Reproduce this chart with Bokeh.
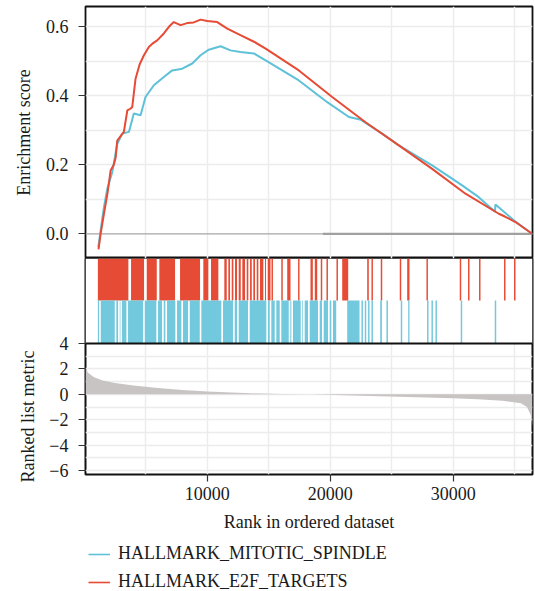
from bokeh.plotting import figure
from bokeh.layouts import column
from bokeh.models import (Range1d, FixedTicker, Legend, LegendItem, Title,
                          NumeralTickFormatter)
from bokeh.embed import file_html
from bokeh.resources import INLINE

# ---------------- data ----------------
e2f_rank = [1160, 1330, 1600, 1900, 2140, 2400, 2550, 2680, 3000, 3220, 3500, 3750, 3900,
            4170, 4500, 4850, 5250, 5600, 5930, 6470, 6900, 7280, 7830, 8370, 8900, 9460,
            10000, 10810, 11630, 12700, 13800, 14750, 17450, 20160, 22870, 25580, 28290,
            31000, 33710, 34200, 35060, 36420]
e2f_es = [-0.045, 0.0, 0.058, 0.12, 0.183, 0.2, 0.22, 0.27, 0.285, 0.295, 0.357, 0.362, 0.367,
          0.449, 0.49, 0.517, 0.541, 0.552, 0.56, 0.58, 0.6, 0.613, 0.604, 0.61, 0.612, 0.62,
          0.616, 0.613, 0.594, 0.575, 0.556, 0.536, 0.473, 0.396, 0.323, 0.256, 0.188,
          0.116, 0.058, 0.05, 0.034, 0.0]

spindle_rank = [1140, 1330, 1600, 1870, 2280, 2680, 3090, 3630, 4030, 4580, 4980, 5660, 6470,
                7150, 7970, 8780, 9460, 10130, 11080, 11890, 12700, 13790, 14750, 17450,
                19760, 21520, 22500, 24230, 25580, 28290, 30730, 32080, 33400, 33440, 34930,
                36420]
spindle_es = [-0.039, 0.01, 0.077, 0.13, 0.179, 0.26, 0.29, 0.295, 0.348, 0.343, 0.396, 0.43,
              0.454, 0.473, 0.478, 0.493, 0.517, 0.533, 0.543, 0.531, 0.526, 0.522, 0.502,
              0.444, 0.381, 0.338, 0.33, 0.29, 0.256, 0.198, 0.14, 0.106, 0.064, 0.085, 0.039,
              0.0]

# hit positions (runs of closely spaced hits given as start/end ranks)
e2f_hit_start = [1106, 3804, 5081, 6105, 7788, 9682, 10308, 11390, 11715, 11991, 12260, 12560,
                 12853, 13210, 13480, 13747, 14024, 14292, 14699, 14918, 15224, 16021, 16504,
                 17387, 18398, 18748, 19233, 19696, 20509, 20975, 23008, 23354, 24111, 25655,
                 26260, 27826, 30533, 31208, 32102, 34135, 34948]
e2f_hit_end = [3586, 4862, 5895, 7383, 9415, 10090, 10903, 11586, 11854, 12123, 12423, 12724,
               13074, 13342, 13619, 13887, 14155, 14562, 14781, 15146, 15344, 16141, 16772,
               17507, 18586, 18943, 19353, 19816, 20629, 21463, 23138, 23474, 24231, 25775,
               26447, 27946, 30653, 31328, 32222, 34255, 35068]

spindle_hit_start = [1106, 1341, 2609, 2886, 3072, 3560, 4918, 5999, 6463, 6731, 7544, 8032,
                     8577, 9520, 11284, 12235, 12560, 13455, 14942, 15211, 15617, 16024, 16755,
                     16975, 17731, 17926, 18333, 19146, 19471, 19959, 20227, 21382, 22541,
                     22810, 23078, 23354, 24065, 24574, 25737, 26341, 27875, 28232, 28558,
                     30614, 33380]
spindle_hit_end = [1204, 2480, 2749, 2936, 3423, 4781, 5862, 6326, 6594, 7407, 7895, 8440,
                   9391, 11147, 12098, 12423, 13318, 14805, 15082, 15488, 15895, 16627, 16838,
                   17602, 17789, 18196, 19009, 19334, 19822, 20090, 20488, 22382, 22661,
                   22930, 23198, 23474, 24203, 24694, 25857, 26447, 27995, 28352, 28678,
                   30734, 33500]

metric_rank = [100, 300, 800, 1500, 2500, 4000, 6000, 8000, 10000, 13000, 16000, 18500,
               21000, 24000, 27000, 30000, 32000, 34000, 35500, 36000, 36300, 36450]
metric_value = [2.1, 1.7, 1.35, 1.1, 0.9, 0.7, 0.5, 0.35, 0.22, 0.1, 0.03, 0.0,
                -0.06, -0.14, -0.22, -0.3, -0.38, -0.5, -0.7, -1.0, -1.6, -2.5]

x_ticks = [10000, 20000, 30000]
es_ticks = [0.0, 0.2, 0.4, 0.6]
metric_ticks = [-6, -4, -2, 0, 2, 4]
metric_labels = {-6: "\u22126", -4: "\u22124", -2: "\u22122", 0: "0", 2: "2", 4: "4"}
series_names = ["HALLMARK_MITOTIC_SPINDLE", "HALLMARK_E2F_TARGETS"]

# ---------------- style ----------------
RED = "#E64B35"
BLUE = "#5EC1D8"
FONT = "Liberation Serif"
FS = "18px"
GRID = "#ececec"
W = 535
TICK_OUT = 7
STANDOFF = 10
X0, X1 = 100, 36450
x_range = Range1d(X0, X1)

# lower (metric) panel: 131 px for -6.3..4 ; hit strip of 85 px stacked above it
M_LO, M_HI = -6.3, 4.0
PX_PER_UNIT = 131 / (M_HI - M_LO)
STRIP = 85 / PX_PER_UNIT
SPLIT = M_HI + 43 / PX_PER_UNIT


def style_axis(ax):
    ax.axis_line_color = None
    ax.major_tick_line_color = "#333333"
    ax.major_tick_line_width = 1.2
    ax.major_tick_out = TICK_OUT
    ax.major_tick_in = 0
    ax.minor_tick_line_color = None
    ax.major_label_text_font = FONT
    ax.major_label_text_font_size = FS
    ax.major_label_text_color = "#1a1a1a"
    ax.axis_label_text_font = FONT
    ax.axis_label_text_font_size = FS
    ax.axis_label_text_font_style = "normal"
    ax.axis_label_text_color = "#1a1a1a"


# ---------------- top panel: enrichment score ----------------
p1 = figure(width=W, height=258, x_range=x_range, y_range=Range1d(-0.0715, 0.658),
            output_backend="svg", toolbar_location=None, x_axis_location=None,
            min_border_left=85, min_border_right=3, min_border_top=6, min_border_bottom=0)
p1.outline_line_color = "#111111"
p1.outline_line_width = 1.8
p1.yaxis.ticker = FixedTicker(ticks=es_ticks)
p1.yaxis.formatter = NumeralTickFormatter(format="0.0")
p1.yaxis.axis_label = "Enrichment score"
style_axis(p1.yaxis[0])
p1.yaxis.major_label_standoff = STANDOFF
p1.yaxis.axis_label_standoff = 9
p1.ygrid.ticker = FixedTicker(ticks=[0.1, 0.2, 0.3, 0.4, 0.5, 0.6])
p1.xgrid.ticker = FixedTicker(ticks=[5000, 10000, 15000, 20000, 25000, 30000, 35000])
p1.grid.grid_line_color = GRID
p1.grid.grid_line_width = 1.5

p1.line(x=[X0, X1], y=[0, 0], line_color="#a6a6a6", line_width=1.3)
p1.line(x=[19400, X1], y=[0, 0], line_color="#a0a0a0", line_width=2.2)
p1.line(x=spindle_rank, y=spindle_es, line_color=BLUE, line_width=2)
p1.line(x=e2f_rank, y=e2f_es, line_color=RED, line_width=2)

# ---------------- hit strip + ranked list metric ----------------
p3 = figure(width=W, height=216 + 66, x_range=x_range, y_range=Range1d(M_LO, M_HI + STRIP),
            output_backend="svg", toolbar_location=None,
            min_border_left=85, min_border_right=3, min_border_top=0, min_border_bottom=66)
p3.outline_line_color = "#111111"
p3.outline_line_width = 2.0
p3.yaxis.ticker = FixedTicker(ticks=metric_ticks)
p3.yaxis.major_label_overrides = metric_labels
p3.xaxis.ticker = FixedTicker(ticks=x_ticks)
p3.xaxis.axis_label = "Rank in ordered dataset"
style_axis(p3.yaxis[0])
style_axis(p3.xaxis[0])
p3.yaxis.major_label_standoff = STANDOFF
p3.xaxis.major_label_standoff = 5
p3.xaxis.axis_label_standoff = 9
p3.ygrid.ticker = FixedTicker(ticks=[-6, -5, -4, -3, -2, -1, 0, 1, 2, 3])
p3.xgrid.ticker = FixedTicker(ticks=[5000, 10000, 15000, 20000, 25000, 30000, 35000])
p3.grid.grid_line_color = GRID
p3.grid.grid_line_width = 1.5

p3.varea(x=metric_rank, y1=[0] * len(metric_rank), y2=metric_value, fill_color="#c9c4c4")

# white strip hiding grid behind the hit barcode
p3.quad(left=X0, right=X1, bottom=M_HI, top=M_HI + STRIP, fill_color="white", line_color=None)
p3.quad(left=e2f_hit_start, right=e2f_hit_end, bottom=SPLIT, top=M_HI + STRIP,
        fill_color=RED, line_color=None)
p3.quad(left=spindle_hit_start, right=spindle_hit_end, bottom=M_HI, top=SPLIT,
        fill_color="#72C8DC", line_color=None)
p3.line(x=[X0, X1], y=[M_HI, M_HI], line_color="#111111", line_width=2.2)

p3.add_layout(Title(text="Ranked list metric", align="left", offset=-8, standoff=18,
                    text_font=FONT, text_font_size=FS, text_font_style="normal",
                    text_color="#1a1a1a"), "left")

# ---------------- legend strip ----------------
p4 = figure(width=W, height=51, x_range=Range1d(0, 1), y_range=Range1d(0, 1),
            output_backend="svg", toolbar_location=None,
            x_axis_location=None, y_axis_location=None,
            min_border_left=85, min_border_right=3, min_border_top=0, min_border_bottom=0)
p4.grid.visible = False
p4.outline_line_color = None
leg_blue = p4.line(x=[-5, -4], y=[-5, -5], line_color=BLUE, line_width=1.6)
leg_red = p4.line(x=[-5, -4], y=[-5, -5], line_color=RED, line_width=1.6)
legend = Legend(items=[LegendItem(label=series_names[0], renderers=[leg_blue]),
                       LegendItem(label=series_names[1], renderers=[leg_red])],
                location="top_left", orientation="vertical",
                label_text_font=FONT, label_text_font_size=FS, label_text_color="#1a1a1a",
                glyph_width=22, glyph_height=20, label_height=20, label_standoff=8,
                spacing=7, padding=0, margin=3, border_line_color=None,
                background_fill_alpha=0)
p4.add_layout(legend, "center")

layout = column(p1, p3, p4, spacing=0)
open("out.html", "w").write(file_html(layout, INLINE))
